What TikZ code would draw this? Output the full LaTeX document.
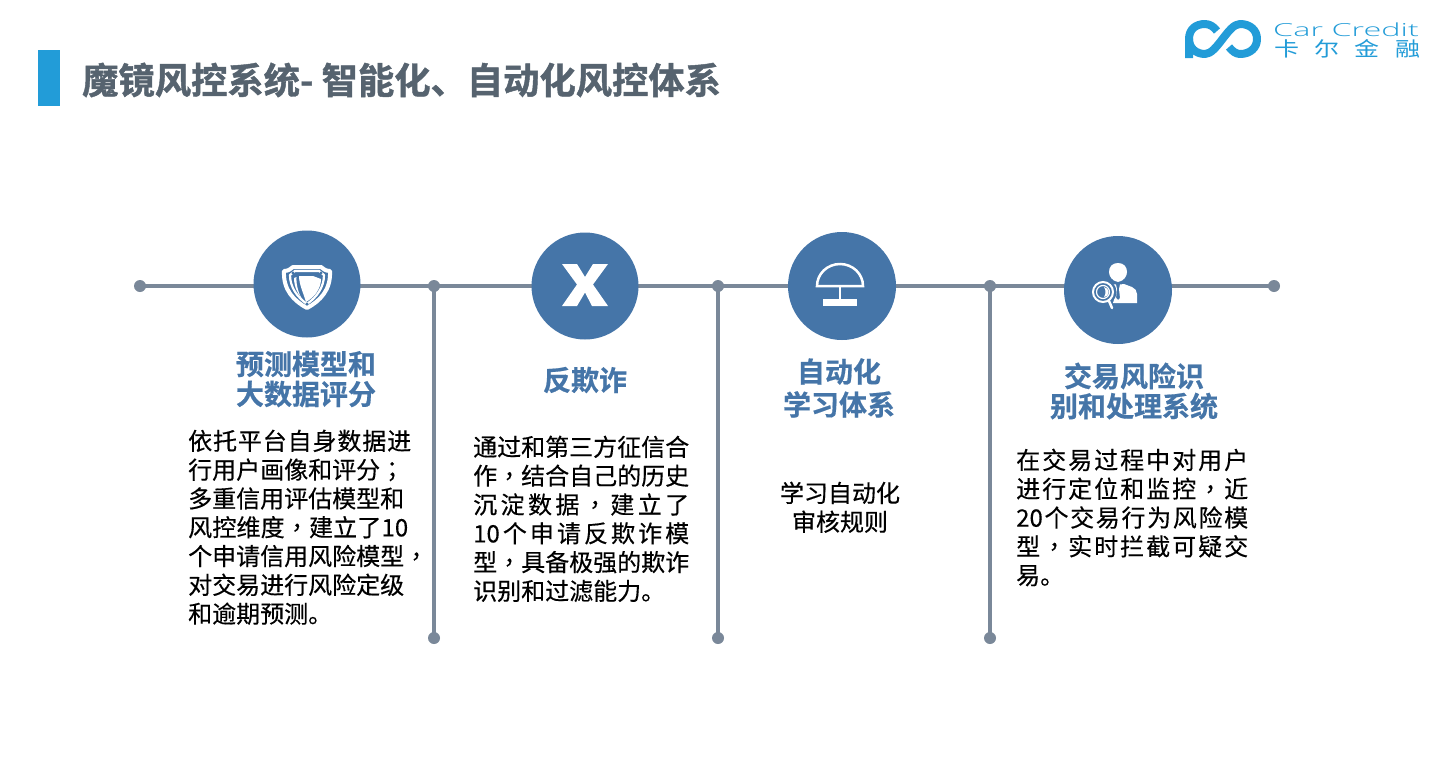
\documentclass[tikz,border=0pt]{standalone}
\usepackage{fontspec}
\setmainfont{Noto Sans CJK SC}
\newfontfamily\bodyf[FakeBold=0.35]{Noto Sans CJK SC}
\newfontfamily\tcf[FakeBold=0.35]{Noto Sans CJK TC}
\newfontfamily\titlef[FakeBold=1.2]{Noto Sans CJK SC Bold}
\newfontfamily\headf[FakeBold=0.6]{Noto Sans CJK SC Bold}
\newfontfamily\logofont[FakeStretch=1.8]{Open Sans Light}
\newfontfamily\logocjk[FakeStretch=1.25]{Noto Sans CJK SC}
\definecolor{bluec}{HTML}{4575A8}
\definecolor{linec}{HTML}{7A8899}
\definecolor{logoc}{HTML}{229CD8}
\definecolor{titlec}{HTML}{56636F}
\newlength\blockw
\newcommand\cma{{\tcf ，}}
\newcommand\smi{{\tcf ；}}
\makeatletter
\def\jly#1{#1\futurelet\jl@next\jlz}
\def\jlz{\ifx\jl@next\relax\let\jl@go\jlend\else\hfil\let\jl@go\jly\fi\jl@go}
\def\jlend\relax{}
\makeatother
\newcommand\jl[2][\blockw]{\makebox[#1][s]{\jly#2\relax}}
\tikzset{
 x=1pt,y=-1pt,
 rail/.style={draw=linec,line width=4.5pt},
 dot/.style={circle,fill=linec,minimum size=12pt,inner sep=0pt},
 badge/.style={circle,fill=bluec,inner sep=0pt},
 head/.style={text=bluec,font=\headf\fontsize{28}{30}\selectfont,align=center,inner sep=0pt},
 body/.style={text=black,font=\bodyf\fontsize{24}{28.8}\selectfont,align=left,inner sep=0pt,anchor=north west},
 icon/.style={fill=white,draw=none},
 iconl/.style={draw=white,fill=none},
 logostroke/.style={draw=logoc,line width=8pt,line cap=butt,line join=round},
}
\begin{document}
\begin{tikzpicture}
\useasboundingbox[fill=white] (0,0) rectangle (1432,774);
% title
\fill[fill=logoc] (38,50) rectangle (60,106);
\node[anchor=west,inner sep=0pt,text=titlec,font=\titlef\fontsize{36.3}{40}\selectfont] (title) at (82,80) {魔镜风控系统- 智能化、自动化风控体系};
% logo
\draw[logostroke] (1189,58) -- (1189,39) .. controls (1189,29) and (1196,24) .. (1205,24)
 .. controls (1210,24) and (1214,27) .. (1217,31);
\draw[logostroke] (1189,39) .. controls (1189,48) and (1196,54) .. (1205,54)
 .. controls (1217,54) and (1228,24) .. (1240,24)
 .. controls (1250,24) and (1257,30) .. (1257,39)
 .. controls (1257,48) and (1250,54) .. (1240,54)
 .. controls (1236,54) and (1232,51) .. (1229,47);
\node[anchor=west,inner sep=0pt,text=logoc,font=\logofont\fontsize{18}{18}\selectfont] (logoa) at (1273,30) {Car Credit};
\node[anchor=west,inner sep=0pt,text=logoc,font=\logocjk\fontsize{20}{20}\selectfont] (logob) at (1274,49) {\makebox[146pt][s]{卡\hfil 尔\hfil 金\hfil 融}};
% rails
\node[dot] (e0) at (140,286) {};
\node[dot] (j1) at (434,286) {};
\node[dot] (j2) at (718,286) {};
\node[dot] (j3) at (990,286) {};
\node[dot] (e4) at (1274,286) {};
\node[dot] (b1) at (434,638) {};
\node[dot] (b2) at (718,638) {};
\node[dot] (b3) at (990,638) {};
\draw[rail] (e0.center) -- (e4.center);
\draw[rail] (j1.center) -- (b1.center);
\draw[rail] (j2.center) -- (b2.center);
\draw[rail] (j3.center) -- (b3.center);
% badges
\node[badge,minimum size=107pt] (c1) at (307,284) {};
\node[badge,minimum size=107pt] (c2) at (585,286) {};
\node[badge,minimum size=108pt] (c3) at (842,286) {};
\node[badge,minimum size=108pt] (c4) at (1118,290) {};
% shield
\begin{scope}[shift={(c1.center)}]
 \draw[iconl,line width=4pt,line join=round] (-23,-13) .. controls (-19,-13) and (-16,-15) .. (-14,-17) -- (14,-17) .. controls (16,-15) and (19,-13) .. (23,-13)
  .. controls (24,6) and (13,17) .. (0,24) .. controls (-13,17) and (-24,6) .. (-23,-13) -- cycle;
 \draw[iconl,line width=2.2pt,line join=round] (-17,-9) -- (-12,-13) -- (12,-13) -- (17,-9)
  .. controls (17,3) and (10,13) .. (0,20) .. controls (-10,13) and (-17,3) .. (-17,-9) -- cycle;
 \fill[icon] (-8,-8) -- (6,-8) -- (14,-5) .. controls (14,4) and (8,13) .. (-1,18) .. controls (-4,8) and (-8,0) .. (-8,-8) -- cycle;
 \fill[icon] (-13,-6) -- (-10.5,-7) .. controls (-11,2) and (-8,10) .. (-5,15) .. controls (-9,10) and (-13,3) .. (-13,-6) -- cycle;
 \fill[bluec] (-14,-11) circle[radius=1.6] (14,-11) circle[radius=1.6] (0,20) circle[radius=1.6];
\end{scope}
% X
\fill[icon] (562,264) -- (577,264) -- (585,277) -- (593,264) -- (608,264) -- (593,284.5) -- (608,306) -- (592,306) -- (585,292.5) -- (577,306) -- (562,306) -- (577,284.5) -- cycle;
% umbrella
\begin{scope}[shift={(c3.center)}]
 \draw[iconl,line width=2.5pt] (-25,0) arc[start angle=180,end angle=360,x radius=23,y radius=22] -- cycle;
 \draw[iconl,line width=2.5pt] (-2,0) -- (-2,14);
 \fill[icon] (-19,13) rectangle (15,20);
\end{scope}
% person with magnifier
\begin{scope}[shift={(c4.center)}]
 \fill[icon] (0,-27) .. controls (-6,-27) and (-9,-23) .. (-9,-18) .. controls (-9,-14) and (-6,-9) .. (0,-8) .. controls (6,-9) and (9,-14) .. (9,-18) .. controls (9,-23) and (6,-27) .. (0,-27) -- cycle;
 \fill[icon] (-6,-6) -- (-2,-5.5) -- (-1,-1) -- (-2,8) -- (0,10) -- (2,8) -- (1,-1) -- (2,-5.5) -- (6,-6) -- (14,-3) .. controls (17,-2) and (19,1) .. (19,4) -- (19,13) -- (-5,13) -- (-3,6) .. controls (-2,2) and (-3,-2) .. (-8,-5) -- cycle;
 \fill[bluec] (-14,2) circle[radius=12.5];
 \draw[iconl,line width=2pt] (-15,2) circle[radius=10];
 \draw[iconl,line width=1.2pt] (-15,2) circle[radius=6.5];
 \fill[icon] (-14,-3) .. controls (-11,-3) and (-9.5,0) .. (-9.5,2) .. controls (-9.5,5) and (-11,7) .. (-14,7) .. controls (-12,4) and (-12,0) .. (-14,-3) -- cycle;
 \draw[white,line width=2.5pt,line cap=round] (-9,11) -- (-6,18);
\end{scope}
% headings
\node[head] (h1) at (306,379) {预测模型和\\大数据评分};
\node[head] (h2) at (585,380) {反欺诈};
\node[head] (h3) at (839,388) {自动化\\[3pt]学习体系};
\node[head] (h4) at (1134,391) {交易风险识\\别和处理系统};
% bodies
\setlength\blockw{216pt}
\node[body] (t1) at (188,429.5) {\jl[223pt]{依托平台自身数据进}\\\jl{行用户画像和评分\smi}\\\jl{多重信用评估模型和}\\\jl[220pt]{风控维度\cma 建立了{10}}\\\jl[234pt]{个申请信用风险模型\cma}\\\jl{对交易进行风险定级}\\和逾期预测。};
\node[body] (t2) at (473,435.5) {\jl{通过和第三方征信合}\\\jl{作\cma 结合自己的历史}\\\jl{沉淀数据\cma 建立了}\\\jl{{10}个申请反欺诈模}\\\jl{型\cma 具备极强的欺诈}\\识别和过滤能力。};
\node[body,anchor=north,align=center] (t3) at (840,481.5) {学习自动化\\审核规则};
\setlength\blockw{232pt}
\node[body] (t4) at (1016,448.5) {\jl{在交易过程中对用户}\\\jl{进行定位和监控\cma 近}\\\jl{{20}个交易行为风险模}\\\jl{型\cma 实时拦截可疑交}\\易。};
\end{tikzpicture}
\end{document}
